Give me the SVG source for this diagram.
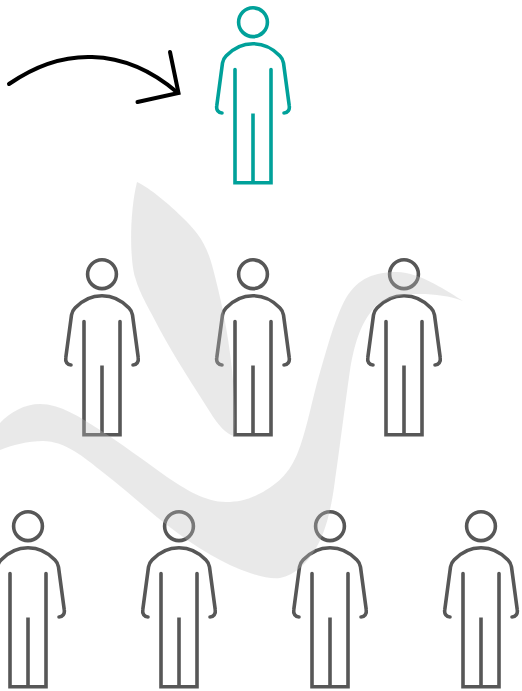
<svg xmlns="http://www.w3.org/2000/svg" width="522" height="691" viewBox="0 0 522 691">
<style>
.fig{fill:none;stroke-width:3.6;stroke-linecap:round;stroke-linejoin:miter}
.teal{stroke:#00a19a}
.gray{stroke:#575757}
.arrow{fill:none;stroke:#000;stroke-width:4;stroke-linecap:round;stroke-linejoin:miter}
.swoosh{fill:#bcbcbc;fill-opacity:.33}
</style>
<defs>
<g id="person">
<circle cx="253" cy="22.200" r="14.400"/>
<path d="M222 113C218.500 113 216 110 216.800 105.500L222.500 63C223 60 224 58 226 56C233 48.500 243 43.700 253 43.700C263 43.700 273 48.500 280 56C282 58 283 60 283.500 63L289.200 105.500C290 110 287.500 113 284 113"/>
<path d="M235 69.500V182.800H271V69.500"/>
<path d="M253 113.500V182.800" stroke-linecap="butt"/>
</g>
</defs>
<g id="connectors">
<g id="arrow" class="arrow">
<path d="M9 84C35 66 62 56 92 57C127 58 156 74 178 93"/>
<path d="M170 52L178.500 93L137.500 102"/>
</g>
</g>
<g id="leader" class="fig teal"><use href="#person"/></g>
<g id="person-2-1" class="fig gray" transform="translate(-151 252)"><use href="#person"/></g>
<g id="person-2-2" class="fig gray" transform="translate(0 252)"><use href="#person"/></g>
<g id="person-2-3" class="fig gray" transform="translate(151 252)"><use href="#person"/></g>
<g id="person-3-1" class="fig gray" transform="translate(-225 504)"><use href="#person"/></g>
<g id="person-3-2" class="fig gray" transform="translate(-74 504)"><use href="#person"/></g>
<g id="person-3-3" class="fig gray" transform="translate(77 504)"><use href="#person"/></g>
<g id="person-3-4" class="fig gray" transform="translate(228 504)"><use href="#person"/></g>
<g id="swoosh">
<path class="swoosh" d="M137 182C150 188 170 205 183 218C195 230 205 240 212 265C220 295 228 330 232 370C235 400 235 425 234 436C226 434 218 425 210 412C195 388 175 358 160 330C150 310 140 295 135 277C130 260 129 215 137 182Z"/>
<path class="swoosh" d="M463 301C450 293 420 272 397 272C375 272 358 278 346 298C335 318 328 345 317 383C310 410 305 435 298 452C290 472 280 482 263 492C250 499 240 502 226 502C205 502 185 489 167 477C145 461 120 443 100 430C80 417 60 404 40 404C25 404 10 412 0 423L0 450C12 445 28 441 43 441C65 441 85 458 100 470C125 489 145 508 167 525C195 547 225 565 250 573C262 577 272 579 280 578C295 575 307 563 315 550C325 533 331 512 335 480C340 445 345 405 350 370C355 340 362 320 377 305C390 296 405 294 420 294C435 294 450 296 463 301Z"/>
</g>
</svg>
